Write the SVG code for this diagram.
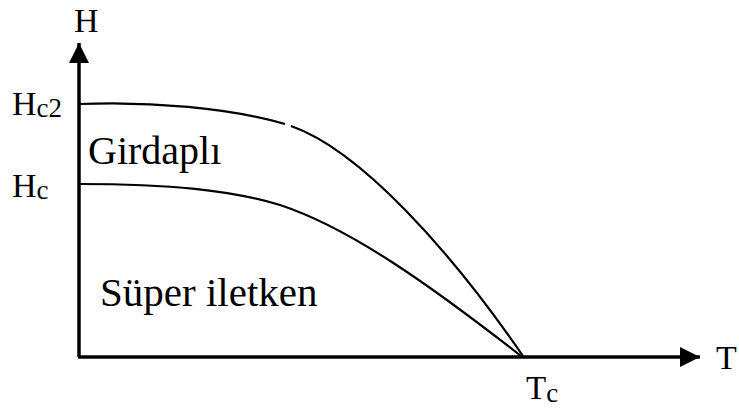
<svg xmlns="http://www.w3.org/2000/svg" width="739" height="416" viewBox="0 0 739 416">
<style>
.t{font-family:"Liberation Serif","Times New Roman",serif;fill:#000}
.ax{stroke:#000;stroke-width:3.5;fill:none}
.cv{stroke:#000;stroke-width:2.2;fill:none}
</style>
<defs>
<marker id="ah" markerUnits="userSpaceOnUse" markerWidth="20" markerHeight="20" viewBox="0 0 20 20" refX="20" refY="10" orient="auto">
<path d="M0,0 L20,10 L0,20 Z" fill="#000"/>
</marker>
</defs>
<rect width="739" height="416" fill="#fff"/>
<g id="connectors">
<path id="h-axis" class="ax" d="M78,357 L700,357" marker-end="url(#ah)"/>
<path id="v-axis" class="ax" d="M79,357 L79,43" marker-end="url(#ah)"/>
<path id="hc2-curve-a" class="cv" d="M79,104 C150,101 230,108 285,124"/>
<path id="hc2-curve-b" class="cv" d="M291,126 C360,150 450,250 523,356"/>
<path id="hc-curve" class="cv" d="M79,184 C170,184 230,190 280,205 C350,228 430,285 521,356"/>
</g>
<g id="label-H"><text class="t" x="74" y="32" font-size="34">H</text></g>
<g id="label-Hc2"><text class="t" x="12" y="115" font-size="34">H<tspan font-size="27" dy="2">c2</tspan></text></g>
<g id="label-Hc"><text class="t" x="12" y="197" font-size="34">H<tspan font-size="27" dy="2">c</tspan></text></g>
<g id="region-girdapli"><text class="t" x="88" y="164" font-size="40">Girdaplı</text></g>
<g id="region-super"><text class="t" x="100" y="306" font-size="41">Süper iletken</text></g>
<g id="label-T"><text class="t" x="716" y="369" font-size="34">T</text></g>
<g id="label-Tc"><text class="t" x="526" y="399" font-size="33">T<tspan font-size="27" dy="3">c</tspan></text></g>
</svg>
